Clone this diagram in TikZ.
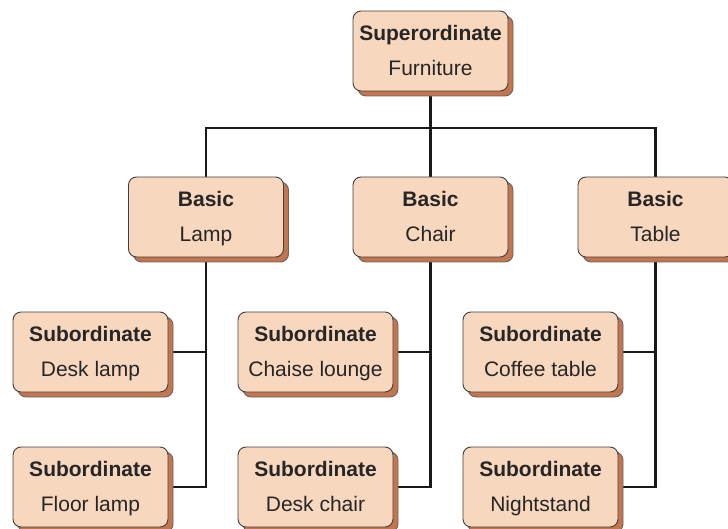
\documentclass[tikz,border=0pt]{standalone}
\usepackage{fontspec}
\setmainfont{Liberation Sans}
\usetikzlibrary{shadows,backgrounds}
\definecolor{boxfill}{HTML}{F7D7BE}
\definecolor{boxshadow}{HTML}{C5754D}
\newcommand{\levelbox}[2]{\textbf{#1}\strut\\#2\strut}
\begin{document}
\begin{tikzpicture}[x=1pt,y=-1pt,
		level/.style={draw=black!75,line width=0.9pt,fill=boxfill,rounded corners=8pt,
			minimum width=155pt,minimum height=80pt,align=center,text=black!85,
			font=\fontsize{21}{35}\selectfont,
			drop shadow={shadow xshift=5pt,shadow yshift=-5pt,fill=boxshadow,draw=black!60,opacity=1}},
		link/.style={line width=2.4pt,black!90}]
			\useasboundingbox (0,0) rectangle (728,529);
			% levels
			\node[level] (furniture) at (430.5,51) {\levelbox{Superordinate}{Furniture}};
			\node[level] (lamp) at (206,217) {\levelbox{Basic}{Lamp}};
			\node[level] (chair) at (430.5,217) {\levelbox{Basic}{Chair}};
			\node[level] (table) at (655.5,217) {\levelbox{Basic}{Table}};
			\node[level] (desklamp) at (90.5,352) {\levelbox{Subordinate}{Desk lamp}};
			\node[level] (floorlamp) at (90.5,487) {\levelbox{Subordinate}{Floor lamp}};
			\node[level] (chaise) at (315.5,352) {\levelbox{Subordinate}{Chaise lounge}};
			\node[level] (deskchair) at (315.5,487) {\levelbox{Subordinate}{Desk chair}};
			\node[level] (coffee) at (540.5,352) {\levelbox{Subordinate}{Coffee table}};
			\node[level] (nightstand) at (540.5,487) {\levelbox{Subordinate}{Nightstand}};
			\coordinate (bar) at (430.5,128);
			\begin{scope}[on background layer]
			\draw[link] (furniture) -- (chair);
			\draw[link] (lamp.north) |- (bar) -| (table.north);
			\draw[link] (lamp.south) |- (floorlamp.east);
			\draw[link] (desklamp.east) -- (desklamp.east -| lamp.south);
			\draw[link] (chair.south) |- (deskchair.east);
			\draw[link] (chaise.east) -- (chaise.east -| chair.south);
			\draw[link] (table.south) |- (nightstand.east);
			\draw[link] (coffee.east) -- (coffee.east -| table.south);
			\end{scope}
		\end{tikzpicture}
\end{document}
